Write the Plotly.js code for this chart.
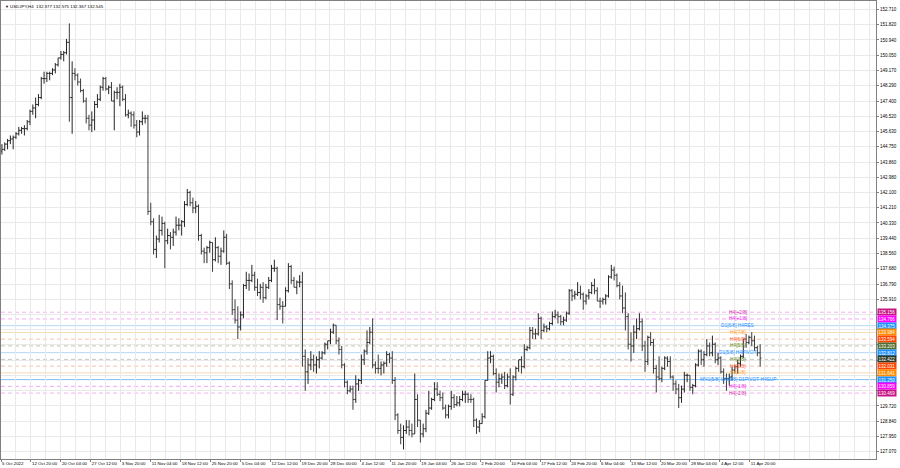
<!DOCTYPE html>
<html><head><meta charset="utf-8">
<script src="https://cdn.plot.ly/plotly-3.0.1.min.js"></script>
<style>html,body{margin:0;padding:0;background:#fff;}#chart{width:900px;height:468px;}</style>
</head><body><div id="chart"></div>
<script>
// ---- DATA ----
const days = [
'2022-10-05','2022-10-06','2022-10-07',
'2022-10-10','2022-10-11','2022-10-12','2022-10-13','2022-10-14',
'2022-10-17','2022-10-18','2022-10-19','2022-10-20','2022-10-21',
'2022-10-24','2022-10-25','2022-10-26','2022-10-27','2022-10-28',
'2022-10-31','2022-11-01','2022-11-02','2022-11-03','2022-11-04',
'2022-11-07','2022-11-08','2022-11-09','2022-11-10','2022-11-11',
'2022-11-14','2022-11-15','2022-11-16','2022-11-17','2022-11-18',
'2022-11-21','2022-11-22','2022-11-23','2022-11-24','2022-11-25',
'2022-11-28','2022-11-29','2022-11-30','2022-12-01','2022-12-02',
'2022-12-05','2022-12-06','2022-12-07','2022-12-08','2022-12-09',
'2022-12-12','2022-12-13','2022-12-14','2022-12-15','2022-12-16',
'2022-12-19','2022-12-20','2022-12-21','2022-12-22','2022-12-23',
'2022-12-27','2022-12-28','2022-12-29','2022-12-30',
'2023-01-02','2023-01-03','2023-01-04','2023-01-05','2023-01-06',
'2023-01-09','2023-01-10','2023-01-11','2023-01-12','2023-01-13',
'2023-01-16','2023-01-17','2023-01-18','2023-01-19','2023-01-20',
'2023-01-23','2023-01-24','2023-01-25','2023-01-26','2023-01-27',
'2023-01-30','2023-01-31','2023-02-01','2023-02-02','2023-02-03',
'2023-02-06','2023-02-07','2023-02-08','2023-02-09','2023-02-10',
'2023-02-13','2023-02-14','2023-02-15','2023-02-16','2023-02-17',
'2023-02-20','2023-02-21','2023-02-22','2023-02-23','2023-02-24',
'2023-02-27','2023-02-28','2023-03-01','2023-03-02','2023-03-03',
'2023-03-06','2023-03-07','2023-03-08','2023-03-09','2023-03-10',
'2023-03-13','2023-03-14','2023-03-15','2023-03-16','2023-03-17',
'2023-03-20','2023-03-21','2023-03-22','2023-03-23','2023-03-24',
'2023-03-27','2023-03-28','2023-03-29','2023-03-30','2023-03-31',
'2023-04-03','2023-04-04','2023-04-05','2023-04-06','2023-04-07',
'2023-04-10','2023-04-11','2023-04-12','2023-04-13'
];
const halfSlots = ['04:00','16:00'];

const opens = [
144.1,144.5,144.6,144.9,145.1,145.2,
145.3,145.5,145.7,145.8,145.8,146.2,146.8,147.0,147.2,147.6,
148.7,148.7,149.0,149.0,149.2,149.5,149.9,150.1,150.2,150.8,
147.6,149.0,148.9,148.5,148.0,147.4,146.4,146.0,146.3,147.2,
147.5,148.2,148.7,148.1,148.2,147.4,147.9,147.9,148.2,147.5,
146.6,146.7,146.6,146.0,145.6,146.2,146.4,146.4,141.0,140.4,
138.8,139.4,139.9,140.3,139.3,139.6,139.5,139.8,140.2,140.2,
140.4,141.4,142.1,141.5,141.2,141.3,139.6,138.7,138.6,138.9,
139.2,138.2,138.9,138.4,138.7,139.5,138.0,136.8,135.3,134.7,
134.3,135.0,136.7,137.0,137.0,137.3,136.6,136.3,136.6,136.0,
136.6,137.0,137.7,137.7,135.6,135.5,135.5,136.4,137.8,137.0,
136.6,136.9,136.9,132.6,131.7,132.1,132.4,132.1,132.4,132.5,
132.8,133.3,133.5,134.0,134.4,133.5,133.0,132.1,
131.1,130.6,130.7,130.1,131.0,131.2,132.4,132.9,133.4,134.0,
132.1,131.9,131.9,132.1,132.2,132.7,132.5,131.2,129.2,128.3,
127.9,128.3,128.5,128.3,128.1,130.1,128.9,128.1,128.4,129.3,
129.6,130.1,130.7,130.4,130.2,129.6,129.2,129.7,130.2,129.8,
129.9,130.1,130.4,130.4,130.1,130.1,128.9,128.5,128.7,129.1,
131.2,132.5,132.6,131.6,131.1,131.3,131.4,130.9,131.4,130.4,
131.4,131.9,132.4,132.0,133.0,133.1,134.1,133.9,133.9,134.8,
134.1,134.3,134.2,134.5,134.9,135.0,134.9,134.6,134.7,135.1,
136.4,136.1,136.2,136.3,136.2,135.8,136.1,136.3,136.7,136.4,
135.8,135.8,135.9,136.1,137.2,137.6,137.3,136.7,136.1,135.4,
134.9,133.3,133.2,134.0,134.2,134.6,133.2,132.3,133.7,133.4,
131.9,131.4,131.3,131.9,132.5,132.3,131.4,131.0,130.7,130.2,
130.7,131.5,131.5,130.8,130.9,132.1,132.9,132.4,132.7,133.2,
132.8,133.3,132.4,132.5,131.7,131.3,131.3,131.4,131.8,132.0,
132.2,132.6,133.6,133.4,133.7,133.5,133.1,132.8
];
const highs = [
144.6,144.9,145.0,145.2,145.4,145.4,
145.6,145.9,145.9,146.0,146.3,146.9,147.2,147.6,147.8,148.8,
149.1,149.1,149.1,149.3,149.6,149.9,150.3,150.3,151.0,151.9,
149.7,149.3,149.0,148.7,148.1,147.6,146.6,146.8,147.4,147.8,
148.3,148.8,148.8,148.3,148.5,148.0,148.2,148.4,148.3,147.8,
146.9,146.8,146.8,146.3,146.3,146.8,146.6,146.6,141.5,140.6,
139.6,140.8,140.7,140.4,140.0,139.8,140.0,140.7,140.6,140.5,
141.6,142.3,142.2,141.8,141.6,141.4,139.7,138.9,139.0,139.3,
139.2,139.5,139.0,138.9,139.9,139.7,138.1,137.0,135.9,135.5,
135.2,136.8,137.5,137.4,137.9,137.5,137.1,136.8,136.9,136.8,
137.2,137.9,138.2,137.8,136.0,135.8,136.6,138.0,137.9,137.2,
137.0,137.3,137.5,133.0,132.5,132.9,132.7,132.6,132.9,132.9,
133.4,133.5,134.2,134.5,134.4,133.7,133.2,132.2,
131.2,130.9,130.9,131.5,131.3,132.7,133.0,134.1,134.3,134.8,
132.3,132.7,132.3,132.3,132.9,132.8,132.9,131.4,129.3,128.7,
128.6,128.9,128.9,128.7,131.6,130.4,128.9,128.7,129.5,130.6,
130.2,131.1,131.1,130.6,130.5,129.8,129.8,130.6,130.4,130.3,
130.3,130.6,130.6,130.5,130.4,130.2,129.0,128.9,129.3,131.2,
132.9,132.9,132.7,131.9,131.6,131.6,131.7,131.6,131.9,131.5,
132.0,132.4,132.6,133.3,133.2,134.3,134.3,134.2,135.1,134.9,
134.5,134.4,134.6,135.2,135.3,135.2,135.0,134.9,135.2,136.5,
136.5,136.4,136.9,136.7,136.3,136.2,136.5,136.9,137.1,136.6,
136.0,136.0,136.2,137.3,137.9,137.8,137.4,136.9,136.7,136.3,
135.1,134.0,134.4,134.8,135.1,134.8,133.5,133.8,134.0,133.6,
132.1,132.6,132.0,132.6,132.6,132.6,131.5,131.2,131.0,130.9,
131.7,131.6,131.5,131.0,132.2,133.0,133.0,132.9,133.6,133.4,
133.8,133.4,132.8,132.6,131.9,131.6,131.6,132.0,132.1,132.4,
132.7,133.6,133.9,133.8,134.0,133.8,133.2,133.3
];
const lows = [
143.9,144.3,144.5,144.6,144.9,144.6,
145.2,145.4,145.5,145.4,145.7,146.0,146.6,146.4,147.1,147.5,
148.4,148.5,148.6,148.9,149.0,149.4,149.8,149.7,150.1,146.2,
145.5,148.6,148.3,147.9,147.3,146.1,145.7,145.6,145.7,147.0,
147.4,148.0,148.0,147.8,147.4,145.7,147.5,147.1,147.4,146.5,
146.4,145.9,145.8,145.3,145.4,146.0,146.1,140.8,140.2,138.5,
138.3,139.2,139.6,137.7,139.1,138.8,139.0,139.6,139.9,139.6,
140.1,141.3,141.3,140.9,140.9,139.3,138.5,138.0,138.0,138.6,
137.5,138.1,138.0,137.9,138.6,137.9,136.5,135.0,134.5,133.6,
134.1,134.8,136.5,136.4,136.9,136.4,136.1,135.9,135.7,135.9,
136.5,136.9,137.5,134.7,135.3,134.5,135.5,136.3,136.8,136.6,
136.2,136.6,132.0,130.6,131.0,131.8,131.7,131.6,131.9,132.4,
132.7,133.0,133.3,133.9,133.3,132.7,131.9,130.8,
130.4,130.5,129.5,129.9,130.6,131.0,132.1,132.7,133.3,131.9,
131.6,131.6,131.5,131.6,132.0,132.2,131.0,128.9,128.1,127.5,
127.2,128.1,128.0,127.9,128.1,128.5,127.6,127.9,128.2,129.2,
129.5,130.0,130.3,130.0,129.5,129.0,129.0,129.5,129.6,129.7,
129.7,130.0,129.9,129.9,129.9,128.5,128.1,128.2,128.7,129.0,
131.2,132.2,131.5,130.5,130.8,131.0,130.7,130.8,129.8,130.3,
131.2,131.7,131.6,131.9,132.9,133.0,133.6,133.6,133.8,133.6,
134.0,134.0,134.1,134.4,134.8,134.5,134.4,134.4,134.6,135.0,
135.8,135.9,136.1,135.9,135.3,135.6,135.9,136.2,136.2,135.8,
135.4,135.6,135.6,136.0,137.1,137.0,136.6,135.9,135.1,134.1,
133.0,132.3,132.8,133.6,134.1,132.9,131.7,132.1,133.2,131.6,
130.5,131.2,131.1,131.8,132.0,131.3,130.6,130.4,129.6,129.9,
130.5,131.1,130.6,130.4,130.8,132.0,132.1,132.0,132.6,132.6,
132.6,132.2,132.1,131.6,131.0,130.6,130.9,131.2,131.6,131.6,
132.0,132.5,133.1,133.3,133.2,132.9,132.6,132.0
];
const closes = [
144.5,144.6,144.9,145.1,145.2,145.3,
145.5,145.7,145.8,145.8,146.2,146.8,147.0,147.2,147.6,148.7,
148.7,149.0,149.0,149.2,149.5,149.9,150.1,150.2,150.8,147.6,
149.0,148.9,148.5,148.0,147.4,146.4,146.0,146.3,147.2,147.5,
148.2,148.7,148.1,148.2,147.4,147.9,147.9,148.2,147.5,146.6,
146.7,146.6,146.0,145.6,146.2,146.4,146.4,141.0,140.4,138.8,
139.4,139.9,140.3,139.3,139.6,139.5,139.8,140.2,140.2,140.4,
141.4,142.1,141.5,141.2,141.3,139.6,138.7,138.6,138.9,139.2,
138.2,138.9,138.4,138.7,139.5,138.0,136.8,135.3,134.7,134.3,
135.0,136.7,137.0,137.0,137.3,136.6,136.3,136.6,136.0,136.6,
137.0,137.7,137.7,135.6,135.5,135.5,136.4,137.8,137.0,136.6,
136.9,136.9,132.6,131.7,132.1,132.4,132.1,132.4,132.5,132.8,
133.3,133.5,134.0,134.4,133.5,133.0,132.1,131.1,
130.6,130.7,130.1,131.0,131.2,132.4,132.9,133.4,134.0,132.1,
131.9,131.9,132.1,132.2,132.7,132.5,131.2,129.2,128.3,127.9,
128.3,128.5,128.3,128.1,130.1,128.9,128.1,128.4,129.3,129.6,
130.1,130.7,130.4,130.2,129.6,129.2,129.7,130.2,129.8,129.9,
130.1,130.4,130.4,130.1,130.1,128.9,128.5,128.7,129.1,131.2,
132.5,132.6,131.6,131.1,131.3,131.4,130.9,131.4,130.4,131.4,
131.9,132.4,132.0,133.0,133.1,134.1,133.9,133.9,134.8,134.1,
134.3,134.2,134.5,134.9,135.0,134.9,134.6,134.7,135.1,136.4,
136.1,136.2,136.3,136.2,135.8,136.1,136.3,136.7,136.4,135.8,
135.8,135.9,136.1,137.2,137.6,137.3,136.7,136.1,135.4,134.9,
133.3,133.2,134.0,134.2,134.6,133.2,132.3,133.7,133.4,131.9,
131.4,131.3,131.9,132.5,132.3,131.4,131.0,130.7,130.2,130.7,
131.5,131.5,130.8,130.9,132.1,132.9,132.4,132.7,133.2,132.8,
133.3,132.4,132.5,131.7,131.3,131.3,131.4,131.8,132.0,132.2,
132.6,133.6,133.4,133.7,133.5,133.1,132.8,132.5
];

const tickDates = ['2022-10-05 12:00','2022-10-12 20:00','2022-10-20 04:00','2022-10-27 12:00','2022-11-03 20:00',
'2022-11-11 04:00','2022-11-18 12:00','2022-11-25 20:00','2022-12-05 04:00','2022-12-12 12:00','2022-12-19 20:00',
'2022-12-28 00:00','2023-01-04 12:00','2023-01-11 20:00','2023-01-19 04:00','2023-01-26 12:00','2023-02-02 20:00',
'2023-02-10 04:00','2023-02-17 12:00','2023-02-24 20:00','2023-03-06 04:00','2023-03-13 12:00','2023-03-20 20:00',
'2023-03-28 04:00','2023-04-04 12:00','2023-04-11 20:00'];
const tickTexts = ['5 Oct 2022','12 Oct 20:00','20 Oct 04:00','27 Oct 12:00','3 Nov 20:00','11 Nov 04:00','18 Nov 12:00',
'25 Nov 20:00','5 Dec 04:00','12 Dec 12:00','19 Dec 20:00','28 Dec 00:00','4 Jan 12:00','11 Jan 20:00','19 Jan 04:00',
'26 Jan 12:00','2 Feb 20:00','10 Feb 04:00','17 Feb 12:00','24 Feb 20:00','6 Mar 04:00','13 Mar 12:00','20 Mar 20:00',
'28 Mar 04:00','4 Apr 12:00','11 Apr 20:00'];
const gridDates = ['2022-10-10 04:00','2022-10-17 12:00','2022-10-24 20:00','2022-11-01 04:00','2022-11-08 12:00',
'2022-11-15 20:00','2022-11-23 04:00','2022-11-30 12:00','2022-12-07 20:00','2022-12-15 04:00','2022-12-22 12:00',
'2022-12-30 16:00','2023-01-09 04:00','2023-01-16 12:00','2023-01-23 20:00','2023-01-31 04:00','2023-02-07 12:00',
'2023-02-14 20:00','2023-02-22 04:00','2023-03-01 12:00','2023-03-08 20:00','2023-03-16 04:00','2023-03-23 12:00',
'2023-03-30 20:00','2023-04-07 04:00','2023-04-14 12:00','2023-04-19 04:00','2023-04-21 20:00','2023-04-26 12:00',
'2023-05-01 04:00','2023-05-03 20:00','2023-05-08 12:00','2023-05-11 04:00'];

const priceTicks = [152.710,151.820,150.940,150.050,149.170,148.290,147.400,146.520,145.630,144.750,143.860,142.980,
142.100,141.210,140.330,139.440,138.560,137.680,136.790,135.910,135.030,134.140,133.260,132.380,131.490,130.610,
129.720,128.840,127.950,127.070];

const levelPrices = [135.156,134.766,134.375,133.984,133.594,133.203,132.813,132.422,132.031,131.641,131.250,130.859,130.469];
const levelValueTexts = ['135.156','134.766','134.375','133.984','133.594','133.203','132.812','132.422','132.031','131.641','131.250','130.859','130.469'];
const levelNames = ['H4[+2/8]','H4[+1/8]','D1[6/8] H4RES','H4[7/8]','H4[6/8]','H4[5/8]','D1[5/8] H4PIVOT','H4[3/8]','H4[2/8]','H4[1/8]','MN1[5/8] W1[6/8] D1PIVOT H4SUP','H4[-1/8]','H4[-2/8]'];
const headerText = 'USDJPY,H4  132.377 132.575 132.367 132.545';

// ---- STYLES ----
const lineColors = ['#f4b0f0','#f6a4f6','#b4d8f7','#f8dcb4','#f7bfa9','#c2c5b0','#b4d8f7','#c6c6c6','#f7bfa9','#f8dcb4','#7fbcf2','#f6a4f6','#f4b0f0'];
const lineDash   = ['4px,3px','4px,3px','solid','solid','4px,3px','4px,3px','solid','4px,3px','4px,3px','solid','solid','4px,3px','4px,3px'];
const textColors = ['#d62fae','#ee1ee8','#1e90ff','#ff9a1f','#ff6030','#6b8e23','#1e90ff','#6b8e23','#ff6030','#ff9a1f','#1e90ff','#ee1ee8','#d62fae'];
const boxColors  = ['#c71585','#ff00ff','#1e90ff','#ff8c00','#ff4500','#556b2f','#1e90ff','#2f3b28','#ff4500','#ff8c00','#1e90ff','#ff00ff','#c71585'];
const labelAnchorTime = '2023-04-07 17:00';
const FONT = 'Liberation Sans, Arial, sans-serif';

const times = days.flatMap(d => halfSlots.map(h => d + ' ' + h));

const trace = {
  type: 'ohlc', x: times, open: opens, high: highs, low: lows, close: closes,
  increasing: {line: {color: '#262626', width: 1}},
  decreasing: {line: {color: '#3c3c3c', width: 1}},
  tickwidth: 0.5, hoverinfo: 'skip', showlegend: false
};

const hiddenFrom = 135.5, hiddenTo = 130.0;
const priceTickText = priceTicks.map(p => (p < hiddenFrom && p > hiddenTo) ? '' : p.toFixed(3));

const shapes = levelPrices.map((p, i) => ({
  type: 'line', xref: 'paper', x0: 0, x1: 1, yref: 'y', y0: p, y1: p, layer: 'between',
  line: {color: lineColors[i], width: 1, dash: lineDash[i]}
}));

const annotations = [];
levelPrices.forEach((p, i) => {
  annotations.push({
    xref: 'x', yref: 'y', x: labelAnchorTime, y: p, text: levelNames[i], showarrow: false,
    xanchor: 'center', yanchor: 'middle', yshift: 0,
    font: {family: FONT, size: 4.8, color: textColors[i]}
  });
  annotations.push({
    xref: 'paper', yref: 'y', x: 1, y: p, text: levelValueTexts[i], showarrow: false,
    xanchor: 'left', yanchor: 'middle', xshift: 1, bgcolor: boxColors[i], borderpad: 0.6,
    font: {family: FONT, size: 4.5, color: '#ffffff'}
  });
});
annotations.push({xref: 'paper', yref: 'paper', x: 0, y: 1, xanchor: 'left', yanchor: 'top', xshift: 2, yshift: -1,
  text: '▼', showarrow: false, font: {family: FONT, size: 4, color: '#000'}});
annotations.push({xref: 'paper', yref: 'paper', x: 0, y: 1, xanchor: 'left', yanchor: 'top', xshift: 7, yshift: -1,
  text: headerText, showarrow: false, font: {family: FONT, size: 4.4, color: '#000'}});

const gridCol = '#e9e9e9';
const layout = {
  width: 900, height: 468,
  margin: {l: 1, r: 24, t: 1, b: 9, pad: 0},
  paper_bgcolor: '#ffffff', plot_bgcolor: '#ffffff',
  showlegend: false, dragmode: false,
  font: {family: FONT, size: 4.4, color: '#000'},
  xaxis: {
    type: 'date', range: ['2022-10-05 12:00', '2023-05-12 07:00'],
    rangebreaks: [{bounds: ['sat', 'mon']}, {values: ['2022-12-26'], dvalue: 86400000}],
    rangeslider: {visible: false},
    tickmode: 'array', tickvals: tickDates, ticktext: tickTexts,
    ticklabelposition: 'outside right', tickangle: 0, automargin: false,
    tickfont: {family: FONT, size: 4.4, color: '#000'},
    ticks: 'outside', ticklen: 2, tickcolor: '#808080', tickwidth: 1,
    showgrid: true, gridcolor: gridCol, gridwidth: 1,
    minor: {tickmode: 'array', tickvals: gridDates, showgrid: true, gridcolor: gridCol, ticks: ''},
    showline: true, linecolor: '#808080', linewidth: 1, mirror: true,
    zeroline: false, fixedrange: true
  },
  yaxis: {
    side: 'right', range: [126.647, 153.198], automargin: false,
    tickmode: 'array', tickvals: priceTicks, ticktext: priceTickText,
    tickfont: {family: FONT, size: 4.5, color: '#000'},
    ticks: 'outside', ticklen: 2, tickcolor: '#808080',
    showgrid: true, gridcolor: gridCol, gridwidth: 1,
    showline: true, linecolor: '#808080', linewidth: 1, mirror: true,
    zeroline: false, fixedrange: true
  },
  shapes: shapes,
  annotations: annotations
};

Plotly.newPlot('chart', [trace], layout, {staticPlot: true, displayModeBar: false});
</script>
</body></html>
